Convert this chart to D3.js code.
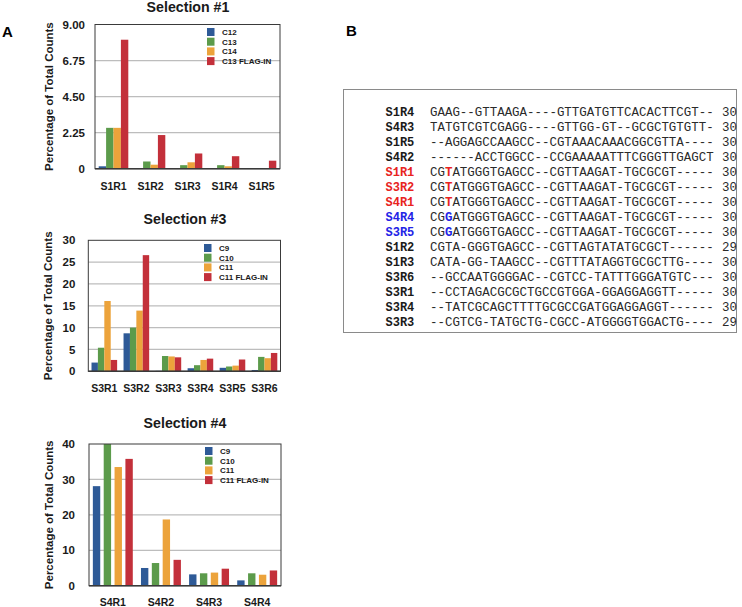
<!DOCTYPE html>
<html>
<head>
<meta charset="utf-8">
<script src="https://cdn.jsdelivr.net/npm/d3@7"></script>
<style>
    body { margin: 0; background: #ffffff; }
    svg { display: block; font-family: "Liberation Sans", Arial, sans-serif; }
</style>
</head>
<body>
<div id="fig"></div>
<script>
// panel A data
var colors = ["#2e5a97", "#5c9b4b", "#eca33b", "#c3303a"];

var sel1Categories = ["S1R1", "S1R2", "S1R3", "S1R4", "S1R5"];
var sel1Series = ["C12", "C13", "C14", "C13 FLAG-IN"];
var sel1Values = [
    [0.15, 0.03, 0, 0, 0],
    [2.55, 0.45, 0.22, 0.22, 0.02],
    [2.55, 0.25, 0.40, 0.15, 0.02],
    [8.05, 2.10, 0.95, 0.78, 0.50]
];
var sel1Ticks = [0, 2.25, 4.5, 6.75, 9];
var sel1TickLabels = ["0", "2.25", "4.50", "6.75", "9.00"];

var sel3Categories = ["S3R1", "S3R2", "S3R3", "S3R4", "S3R5", "S3R6"];
var sel3Series = ["C9", "C10", "C11", "C11 FLAG-IN"];
var sel3Values = [
    [2.0, 8.7, 0.1, 0.7, 0.8, 0.3],
    [5.4, 10.0, 3.5, 1.4, 1.1, 3.3],
    [16.1, 13.9, 3.4, 2.6, 1.3, 3.0],
    [2.6, 26.6, 3.2, 2.9, 2.7, 4.2]
];
var sel3Ticks = [0, 5, 10, 15, 20, 25, 30];

var sel4Categories = ["S4R1", "S4R2", "S4R3", "S4R4"];
var sel4Series = ["C9", "C10", "C11", "C11 FLAG-IN"];
var sel4Values = [
    [28.1, 5.0, 3.2, 1.5],
    [40.0, 6.4, 3.5, 3.5],
    [33.5, 18.7, 3.7, 3.1],
    [35.8, 7.3, 4.8, 4.3]
];
var sel4Ticks = [0, 10, 20, 30, 40];

// panel B data
var seqNames = ["S1R4", "S4R3", "S1R5", "S4R2", "S1R1", "S3R2", "S4R1", "S4R4", "S3R5",
    "S1R2", "S1R3", "S3R6", "S3R1", "S3R4", "S3R3"];
var seqStrings = [
    "GAAG--GTTAAGA----GTTGATGTTCACACTTCGT--",
    "TATGTCGTCGAGG----GTTGG-GT--GCGCTGTGTT-",
    "--AGGAGCCAAGCC--CGTAAACAAACGGCGTTA----",
    "------ACCTGGCC--CCGAAAAATTTCGGGTTGAGCT",
    "CGTATGGGTGAGCC--CGTTAAGAT-TGCGCGT-----",
    "CGTATGGGTGAGCC--CGTTAAGAT-TGCGCGT-----",
    "CGTATGGGTGAGCC--CGTTAAGAT-TGCGCGT-----",
    "CGGATGGGTGAGCC--CGTTAAGAT-TGCGCGT-----",
    "CGGATGGGTGAGCC--CGTTAAGAT-TGCGCGT-----",
    "CGTA-GGGTGAGCC--CGTTAGTATATGCGCT------",
    "CATA-GG-TAAGCC--CGTTTATAGGTGCGCTTG----",
    "--GCCAATGGGGAC--CGTCC-TATTTGGGATGTC---",
    "--CCTAGACGCGCTGCCGTGGA-GGAGGAGGTT-----",
    "--TATCGCAGCTTTTGCGCCGATGGAGGAGGT------",
    "--CGTCG-TATGCTG-CGCC-ATGGGGTGGACTG----"
];
var seqLengths = [30, 30, 30, 30, 30, 30, 30, 30, 30, 29, 30, 30, 30, 30, 29];
var seqGroups = ["", "", "", "", "T", "T", "T", "G", "G", "", "", "", "", "", ""];


var width = 742;
var height = 607;

var svg = d3.select("#fig")
    .append("svg")
    .attr("width", width)
    .attr("height", height);

svg.append("text").attr("x", 2).attr("y", 37)
    .attr("font-size", 15).attr("font-weight", "bold").text("A");
svg.append("text").attr("x", 346).attr("y", 36)
    .attr("font-size", 15).attr("font-weight", "bold").text("B");


function barChart(opt) {
    var g = svg.append("g");
    var m = opt.box;   // [left, top, right, bottom]

    var x = d3.scaleBand()
        .domain(opt.categories)
        .range([m[0], m[2]])
        .paddingInner(opt.padIn)
        .paddingOuter(opt.padOut);

    var xs = d3.scaleBand()
        .domain(d3.range(opt.series.length))
        .range([0, x.bandwidth()])
        .paddingInner(opt.subPad);

    var y = d3.scaleLinear()
        .domain([0, opt.ticks[opt.ticks.length - 1]])
        .range([m[3], m[1]]);

    // gridlines
    g.selectAll("line.grid")
        .data(opt.ticks.slice(1, -1))
        .enter().append("line")
        .attr("class", "grid")
        .attr("x1", m[0]).attr("x2", m[2])
        .attr("y1", d => y(d)).attr("y2", d => y(d))
        .style("stroke", "#bdbdbd")
        .style("stroke-width", 1.3);

    // bars
    opt.series.forEach(function(s, i) {
        g.append("g").selectAll("rect")
            .data(opt.values[i])
            .enter().append("rect")
            .attr("x", (d, j) => x(opt.categories[j]) + xs(i))
            .attr("width", xs.bandwidth())
            .attr("y", d => y(d))
            .attr("height", d => y(0) - y(d))
            .attr("fill", colors[i]);
    });

    // frame
    g.append("rect")
        .attr("x", m[0]).attr("y", m[1])
        .attr("width", m[2] - m[0]).attr("height", m[3] - m[1])
        .attr("fill", "none")
        .style("stroke", "#3a3a3a")
        .style("stroke-width", 1);
    g.append("line")
        .attr("x1", m[0]).attr("x2", m[2])
        .attr("y1", m[3]).attr("y2", m[3])
        .style("stroke", "#3a3a3a")
        .style("stroke-width", 1.5);

    // y axis
    var yAxis = d3.axisLeft(y)
        .tickValues(opt.ticks)
        .tickSize(0)
        .tickPadding(opt.tickPad)
        .tickFormat((d, i) => opt.tickLabels ? opt.tickLabels[i] : d);
    var ya = g.append("g")
        .attr("transform", "translate(" + m[0] + ",0)")
        .call(yAxis);
    ya.select(".domain").remove();
    ya.selectAll("text")
        .attr("font-size", 11.5)
        .attr("font-weight", "bold")
        .attr("font-family", "Liberation Sans, Arial, sans-serif")
        .attr("fill", "#1a1a1a");

    // x axis
    var xAxis = d3.axisBottom(x).tickSize(0).tickPadding(opt.xPad);
    var xa = g.append("g")
        .attr("transform", "translate(0," + m[3] + ")")
        .call(xAxis);
    xa.select(".domain").remove();
    xa.selectAll("text")
        .attr("font-size", 10.5)
        .attr("font-weight", "bold")
        .attr("font-family", "Liberation Sans, Arial, sans-serif")
        .attr("fill", "#1a1a1a");

    // titles
    g.append("text")
        .attr("x", opt.titleX).attr("y", opt.titleY)
        .attr("text-anchor", "middle")
        .attr("font-size", 14.2)
        .attr("font-weight", "bold")
        .attr("fill", "#1a1a1a")
        .text(opt.title);

    g.append("text")
        .attr("transform", "translate(" + opt.labelX + "," + ((m[1] + m[3]) / 2) + ") rotate(-90)")
        .attr("text-anchor", "middle")
        .attr("font-size", 11.5)
        .attr("font-weight", "bold")
        .attr("fill", "#1a1a1a")
        .text("Percentage of Total Counts");

    // legend
    var lg = g.append("g")
        .attr("transform", "translate(" + opt.legend[0] + "," + opt.legend[1] + ")");
    var item = lg.selectAll("g")
        .data(opt.series)
        .enter().append("g")
        .attr("transform", (d, i) => "translate(0," + (i * 9.7) + ")");
    item.append("rect")
        .attr("x", 0).attr("y", -4)
        .attr("width", 7.5).attr("height", 8)
        .attr("fill", (d, i) => colors[i]);
    item.append("text")
        .attr("x", 15).attr("y", 3)
        .attr("font-size", 8)
        .attr("font-weight", "bold")
        .attr("fill", "#1a1a1a")
        .text(d => d);
}

barChart({
    title: "Selection #1", titleX: 188, titleY: 12,
    box: [95, 24.5, 280, 168.7],
    categories: sel1Categories, series: sel1Series, values: sel1Values,
    ticks: sel1Ticks, tickLabels: sel1TickLabels, tickPad: 10,
    padIn: 0.2, padOut: 0.1, subPad: 0,
    xPad: 14, labelX: 53, legend: [207, 32]
});

barChart({
    title: "Selection #3", titleX: 185, titleY: 224,
    box: [88.3, 240.3, 280.5, 371.3],
    categories: sel3Categories, series: sel3Series, values: sel3Values,
    ticks: sel3Ticks, tickPad: 13,
    padIn: 0.2, padOut: 0.1, subPad: 0,
    xPad: 13, labelX: 52, legend: [204, 248]
});

barChart({
    title: "Selection #4", titleX: 185, titleY: 428,
    box: [89, 444, 281, 585.7],
    categories: sel4Categories, series: sel4Series, values: sel4Values,
    ticks: sel4Ticks, tickPad: 14,
    padIn: 0.17, padOut: 0.08, subPad: 0.32,
    xPad: 13, labelX: 53, legend: [205, 451]
});


// panel B: alignment box
var pb = svg.append("g");
pb.append("rect")
    .attr("x", 343.5).attr("y", 89.5)
    .attr("width", 393).attr("height", 243)
    .attr("fill", "none")
    .style("stroke", "#8a8a8a")
    .style("stroke-width", 1);

var rowY = d3.scalePoint()
    .domain(seqNames)
    .range([115.5, 325.5]);

function nameColor(i) {
    if (seqGroups[i] === "T") return "#e8231e";
    if (seqGroups[i] === "G") return "#2323e6";
    return "#1a1a1a";
}

var rows = pb.selectAll("g.row")
    .data(seqNames)
    .enter().append("g")
    .attr("class", "row")
    .attr("transform", d => "translate(0," + rowY(d) + ")");

rows.append("text")
    .attr("x", 385.5)
    .attr("font-family", "Liberation Mono, Courier New, monospace")
    .attr("font-size", 12)
    .attr("font-weight", "bold")
    .attr("fill", (d, i) => nameColor(i))
    .text(d => d);

var seqText = rows.append("text")
    .attr("x", 430)
    .attr("font-family", "Liberation Mono, Courier New, monospace")
    .attr("font-size", 12.45)
    .attr("fill", "#2a2a2a");

seqText.each(function(d, i) {
    var t = d3.select(this);
    var s = seqStrings[i];
    if (seqGroups[i]) {
        t.append("tspan").text(s.slice(0, 2));
        t.append("tspan")
            .attr("font-weight", "bold")
            .attr("fill", nameColor(i))
            .text(s.slice(2, 3));
        t.append("tspan").text(s.slice(3));
    } else {
        t.text(s);
    }
});

rows.append("text")
    .attr("x", 722)
    .attr("font-family", "Liberation Mono, Courier New, monospace")
    .attr("font-size", 12.45)
    .attr("fill", "#2a2a2a")
    .text((d, i) => seqLengths[i]);
</script>
</body>
</html>
